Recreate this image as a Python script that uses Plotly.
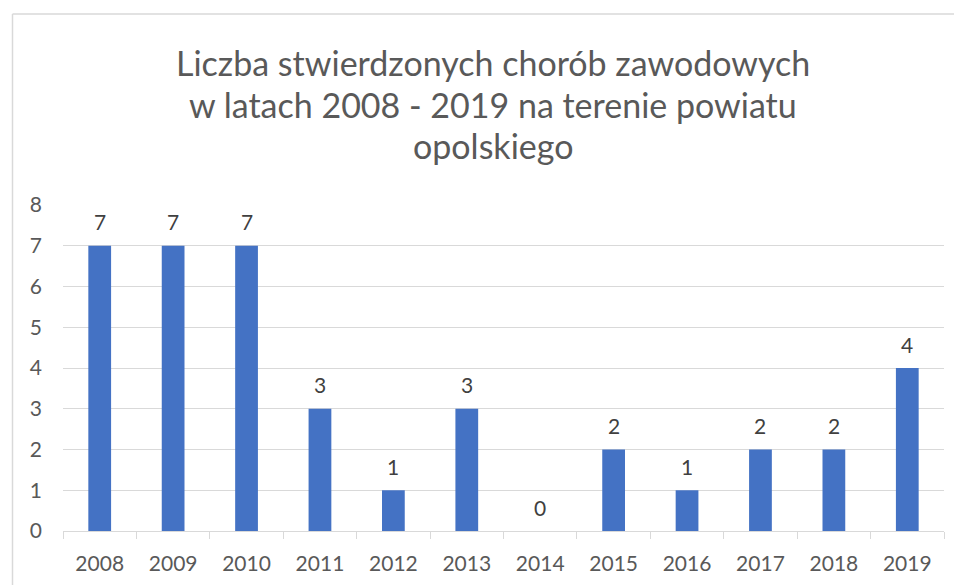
import plotly.graph_objects as go

years = ["2008", "2009", "2010", "2011", "2012", "2013", "2014", "2015", "2016", "2017", "2018", "2019"]
cases = [7, 7, 7, 3, 1, 3, 0, 2, 1, 2, 2, 4]
title_lines = ["Liczba stwierdzonych chorób zawodowych",
               "w latach 2008 - 2019 na terenie powiatu",
               "opolskiego"]
y_ticks = [0, 1, 2, 3, 4, 5, 6, 7, 8]

FONT = "Lato"
OFF = 8  # page body margin
W, H = 962 - OFF, 585 - OFF
L, R, T, B = 63 - OFF, 18, 205 - OFF, 54
PH = H - T - B
PW = W - L - R

def py(pix):
    return 1 + (T - (pix - OFF)) / PH

def px(pix):
    return ((pix - OFF) - L) / PW

fig = go.Figure()
fig.add_trace(go.Bar(
    x=years, y=cases,
    marker=dict(color="#4472C4", line=dict(width=0)),
    hoverinfo="x+y",
))

annotations = []
for i, v in enumerate(cases):
    annotations.append(dict(
        x=i, y=v, xref="x", yref="y", text=str(v), showarrow=False,
        yanchor="middle", yshift=24,
        font=dict(family=FONT, size=21, color="#404040"),
    ))
for line, ypix in zip(title_lines, [62, 104, 146]):
    annotations.append(dict(
        x=px(493), y=py(ypix), xref="paper", yref="paper", text=line,
        showarrow=False, xanchor="center", yanchor="middle",
        font=dict(family=FONT, size=34, color="#595959"),
    ))

fig.update_layout(
    width=W, height=H,
    margin=dict(l=L, r=R, t=T, b=B),
    paper_bgcolor="white", plot_bgcolor="white",
    showlegend=False,
    bargap=0.69,
    annotations=annotations,
    shapes=[
        dict(type="line", xref="paper", yref="paper",
             x0=px(12.5), x1=px(12.5), y0=py(14), y1=py(700),
             line=dict(color="#d9d9d9", width=1.5)),
        dict(type="line", xref="paper", yref="paper",
             x0=px(12.5), x1=px(1100), y0=py(14), y1=py(14),
             line=dict(color="#d9d9d9", width=1.5)),
    ],
    xaxis=dict(
        type="category",
        range=[-0.5, len(years) - 0.5],
        tickson="boundaries", ticks="outside", ticklen=7, tickcolor="#d9d9d9",
        tickwidth=1, tickangle=0, automargin=False,
        showline=True, linecolor="#d9d9d9", linewidth=1,
        showgrid=False,
        tickfont=dict(family=FONT, size=21, color="#595959"),
        ticklabelstandoff=14,
        fixedrange=True,
    ),
    yaxis=dict(
        range=[0, 8], tickvals=y_ticks, automargin=False,
        showgrid=True, gridcolor="#d9d9d9", gridwidth=1,
        zeroline=False, showline=False, ticks="",
        tickfont=dict(family=FONT, size=21, color="#595959"),
        ticklabelstandoff=20,
        fixedrange=True,
    ),
)

fig.write_html("out.html")
